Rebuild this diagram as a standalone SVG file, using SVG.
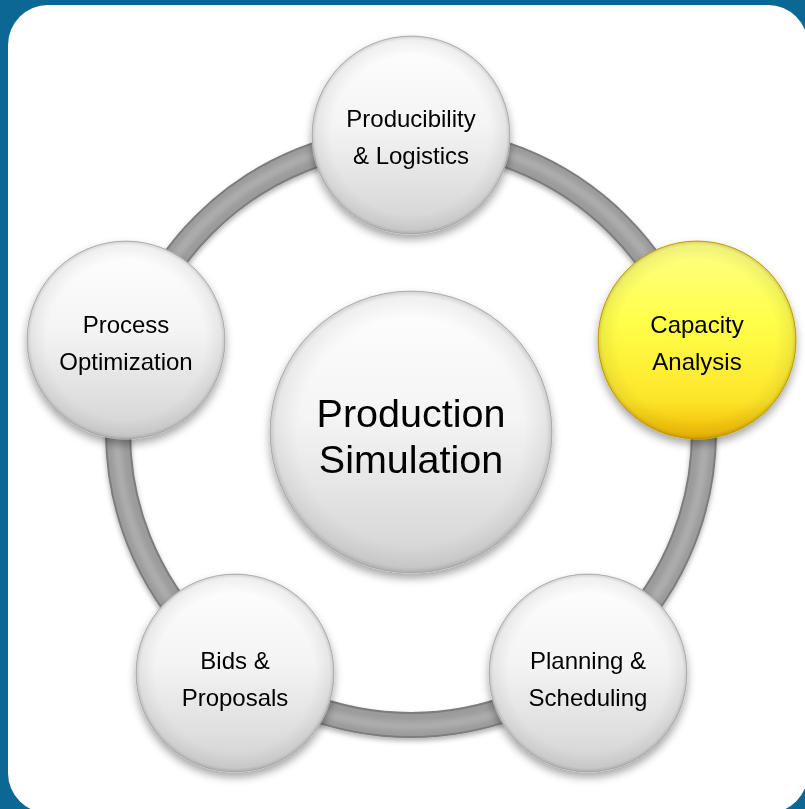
<svg xmlns="http://www.w3.org/2000/svg" width="805" height="809" viewBox="0 0 805 809">
  <defs>
    <linearGradient id="gBall" x1="0" y1="0" x2="0" y2="1">
      <stop offset="0" stop-color="#ffffff"/>
      <stop offset="0.45" stop-color="#f4f4f4"/>
      <stop offset="1" stop-color="#d2d2d2"/>
    </linearGradient>
    <linearGradient id="gGold" x1="0" y1="0" x2="0" y2="1">
      <stop offset="0" stop-color="#ffff88"/>
      <stop offset="0.4" stop-color="#ffff4a"/>
      <stop offset="0.8" stop-color="#fde52a"/>
      <stop offset="1" stop-color="#f2b800"/>
    </linearGradient>
    <radialGradient id="gRim" cx="0.5" cy="0.5" r="0.5">
      <stop offset="0.8" stop-color="#000" stop-opacity="0"/>
      <stop offset="0.96" stop-color="#000" stop-opacity="0.06"/>
      <stop offset="1" stop-color="#000" stop-opacity="0.18"/>
    </radialGradient>
    <filter id="fShadow" x="-20%" y="-20%" width="140%" height="150%">
      <feDropShadow dx="0" dy="5" stdDeviation="4" flood-color="#000" flood-opacity="0.35"/>
    </filter>
    <filter id="fRing" x="-10%" y="-10%" width="120%" height="120%">
      <feDropShadow dx="0" dy="3" stdDeviation="2.5" flood-color="#000" flood-opacity="0.3"/>
    </filter>
    <filter id="fSoft" x="-10%" y="-10%" width="120%" height="120%">
      <feGaussianBlur stdDeviation="2.5"/>
    </filter>
  </defs>
  <style>
    .ball { fill: url(#gBall); stroke: #bdbdbd; stroke-width: 1; }
    .gold { fill: url(#gGold); stroke: #d9a800; stroke-width: 1; }
    .rim { fill: url(#gRim); }
    .lbl { font-family: "Liberation Sans", Arial, sans-serif; font-size: 24px; fill: #000; text-anchor: middle; }
    .big { font-family: "Liberation Sans", Arial, sans-serif; font-size: 39.5px; fill: #000; text-anchor: middle; }
  </style>

  <!-- backdrop and card -->
  <rect x="0" y="0" width="805" height="809" fill="#0b6793"/>
  <rect x="8" y="5" width="800" height="808" rx="40" ry="40" fill="#ffffff"/>

  <!-- ring connecting the outer nodes -->
  <g id="connectors">
    <g filter="url(#fRing)">
      <circle cx="411" cy="432" r="293" fill="none" stroke="#7d7d7d" stroke-width="26"/>
      <circle cx="411" cy="432" r="293" fill="none" stroke="#9b9b9b" stroke-width="22"/>
    </g>
    <circle cx="411" cy="432" r="294" fill="none" stroke="#adadad" stroke-width="9" filter="url(#fSoft)"/>
  </g>

  <g id="center" filter="url(#fShadow)">
    <circle cx="411" cy="432" r="141" class="ball"/>
    <circle cx="411" cy="432" r="141" class="rim"/>
    <text x="411" y="427" class="big">Production</text>
    <text x="411" y="473" class="big">Simulation</text>
  </g>

  <g id="producibility" filter="url(#fShadow)">
    <circle cx="411" cy="135" r="99" class="ball"/>
    <circle cx="411" cy="135" r="99" class="rim"/>
    <text x="411" y="127" class="lbl">Producibility</text>
    <text x="411" y="164" class="lbl">&amp; Logistics</text>
  </g>

  <g id="capacity" filter="url(#fShadow)">
    <circle cx="697" cy="340" r="99" class="gold"/>
    <circle cx="697" cy="340" r="99" class="rim"/>
    <text x="697" y="333" class="lbl">Capacity</text>
    <text x="697" y="370" class="lbl">Analysis</text>
  </g>

  <g id="planning" filter="url(#fShadow)">
    <circle cx="588" cy="673" r="99" class="ball"/>
    <circle cx="588" cy="673" r="99" class="rim"/>
    <text x="588" y="669" class="lbl">Planning &amp;</text>
    <text x="588" y="706" class="lbl">Scheduling</text>
  </g>

  <g id="bids" filter="url(#fShadow)">
    <circle cx="235" cy="673" r="99" class="ball"/>
    <circle cx="235" cy="673" r="99" class="rim"/>
    <text x="235" y="669" class="lbl">Bids &amp;</text>
    <text x="235" y="706" class="lbl">Proposals</text>
  </g>

  <g id="process" filter="url(#fShadow)">
    <circle cx="126" cy="340" r="99" class="ball"/>
    <circle cx="126" cy="340" r="99" class="rim"/>
    <text x="126" y="333" class="lbl">Process</text>
    <text x="126" y="370" class="lbl">Optimization</text>
  </g>
</svg>
